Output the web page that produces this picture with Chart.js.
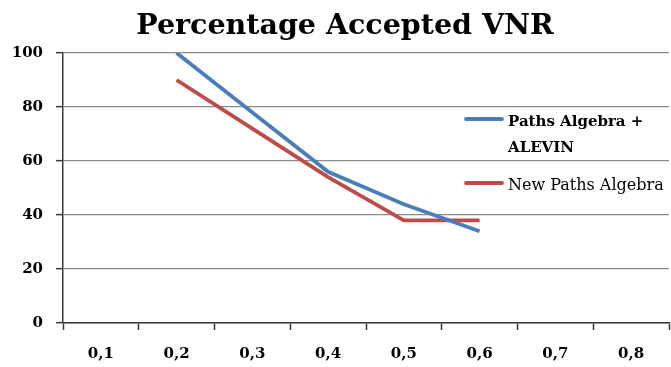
<!DOCTYPE html>
<html>
<head>
<meta charset="utf-8">
<script src="https://cdn.jsdelivr.net/npm/chart.js@4/dist/chart.umd.min.js"></script>
<style>
  html, body { margin: 0; padding: 0; background: #fff; }
  #wrap { width: 671px; height: 367px; }
</style>
</head>
<body>
<div id="wrap"><canvas id="c" width="671" height="367"></canvas></div>
<script>
// Chart data
const categories = ['0,1', '0,2', '0,3', '0,4', '0,5', '0,6', '0,7', '0,8'];
const pathsAlgebraAlevin = [null, 100, 78, 56, 44, 34, null, null];
const newPathsAlgebra = [null, 90, 72, 54, 38, 38, null, null];
const seriesNames = ['Paths Algebra + ALEVIN', 'New Paths Algebra'];
const legendLines = [['Paths Algebra +', 'ALEVIN'], ['New Paths Algebra']];
const chartTitle = 'Percentage Accepted VNR';

const SERIF = '"DejaVu Serif", "Liberation Serif", serif';
const AXIS = '#3a3a3a';
const GRID = '#8c8c8c';

// Title drawn centred above the plot
const titlePlugin = {
  id: 'titleText',
  afterDraw(chart) {
    const ctx = chart.ctx;
    ctx.save();
    ctx.fillStyle = '#000';
    ctx.font = 'bold 28.5px ' + SERIF;
    ctx.textAlign = 'center';
    ctx.textBaseline = 'alphabetic';
    ctx.fillText(chartTitle, 345, 34);
    ctx.restore();
  }
};

// Legend sitting inside the right part of the plot
const legendPlugin = {
  id: 'innerLegend',
  afterDraw(chart) {
    const ctx = chart.ctx;
    const entries = [
      { lines: legendLines[0], y: 119, weight: 'bold', size: 15 },
      { lines: legendLines[1], y: 183, weight: 'normal', size: 16 }
    ];
    ctx.save();
    entries.forEach((e, i) => {
      const ds = chart.data.datasets[i];
      ctx.strokeStyle = ds.borderColor;
      ctx.lineWidth = ds.borderWidth;
      ctx.lineCap = 'round';
      ctx.beginPath();
      ctx.moveTo(466, e.y);
      ctx.lineTo(502, e.y);
      ctx.stroke();
      ctx.fillStyle = '#000';
      ctx.font = e.weight + ' ' + e.size + 'px ' + SERIF;
      ctx.textAlign = 'left';
      ctx.textBaseline = 'alphabetic';
      e.lines.forEach((t, k) => ctx.fillText(t, 508, e.y + 7 + k * 26));
    });
    ctx.restore();
  }
};

new Chart(document.getElementById('c'), {
  type: 'line',
  data: {
    labels: categories,
    datasets: [
      {
        label: seriesNames[0],
        data: pathsAlgebraAlevin,
        borderColor: '#4a7ebb',
        borderWidth: 3.8,
        pointRadius: 0,
        tension: 0,
        fill: false
      },
      {
        label: seriesNames[1],
        data: newPathsAlgebra,
        borderColor: '#be4b48',
        borderWidth: 3.8,
        pointRadius: 0,
        tension: 0,
        fill: false
      }
    ]
  },
  options: {
    responsive: false,
    animation: false,
    devicePixelRatio: 1,
    layout: { padding: { top: 53, right: 2, left: 0, bottom: 0 } },
    plugins: {
      legend: { display: false },
      title: { display: false },
      tooltip: { enabled: false }
    },
    scales: {
      x: {
        type: 'category',
        offset: true,
        grid: {
          offset: true,
          drawOnChartArea: false,
          drawTicks: true,
          tickLength: 7,
          tickColor: AXIS,
          tickWidth: 1.5
        },
        border: { display: true, color: AXIS, width: 1.5 },
        ticks: {
          color: '#000',
          font: { family: SERIF, size: 15, weight: 'bold' },
          padding: 15,
          maxRotation: 0,
          autoSkip: false
        },
        afterFit(s) { s.height = 44; }
      },
      y: {
        min: 0,
        max: 100,
        grid: {
          color: GRID,
          lineWidth: 1.3,
          tickLength: 7,
          tickColor: AXIS,
          tickWidth: 1.5
        },
        border: { display: true, color: AXIS, width: 1.5 },
        ticks: {
          stepSize: 20,
          color: '#000',
          font: { family: SERIF, size: 15, weight: 'bold' },
          padding: 13
        },
        afterFit(s) { s.width = 63; }
      }
    }
  },
  plugins: [titlePlugin, legendPlugin]
});
</script>
</body>
</html>
